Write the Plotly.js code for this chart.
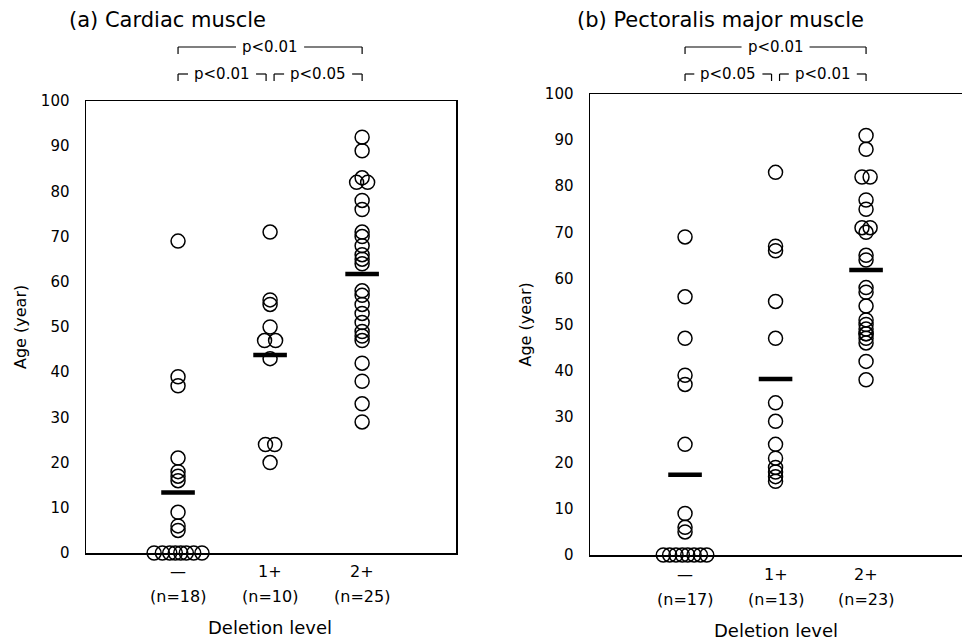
<!DOCTYPE html>
<html><head><meta charset="utf-8">
<script src="https://cdn.plot.ly/plotly-3.0.1.min.js"></script>
<style>html,body{margin:0;padding:0;background:#fff;}#chart{width:962px;height:643px;}</style>
</head><body><div id="chart"></div>
<script>
// ---------- data ----------
const categories = ['—', '1+', '2+'];
const nLabelsA = ['(n=18)', '(n=10)', '(n=25)'];
const nLabelsB = ['(n=17)', '(n=13)', '(n=23)'];
const titleA = '(a) Cardiac muscle';
const titleB = '(b) Pectoralis major muscle';
const yTitle = 'Age (year)';
const xTitle = 'Deletion level';

// (a) Cardiac muscle
const cardiacNone = [69, 39, 37, 21, 18, 17, 16, 9, 6, 5, 0, 0, 0, 0, 0, 0, 0, 0];
const cardiacNoneOff = [0, 0, 0, 0, 0, 0, 0, 0, 0, 0, -0.26, -0.17, -0.09, -0.03, 0.03, 0.09, 0.17, 0.26];
const cardiac1 = [71, 56, 55, 50, 47, 47, 43, 24, 24, 20];
const cardiac1Off = [0, 0, 0, 0, -0.06, 0.06, 0, -0.05, 0.05, 0];
const cardiac2 = [92, 89, 83, 82, 82, 78, 76, 71, 70, 68, 66, 65, 64, 58, 57, 55, 53, 51, 49, 48, 47, 42, 38, 33, 29];
const cardiac2Off = [0, 0, 0, -0.06, 0.06, 0, 0, 0, 0, 0, 0, 0, 0, 0, 0, 0, 0, 0, 0, 0, 0, 0, 0, 0, 0];
const cardiacMeans = [13.4, 43.8, 61.7];
const cardiacP = ['p<0.01', 'p<0.01', 'p<0.05']; // 1-3, 1-2, 2-3

// (b) Pectoralis major muscle
const pectNone = [69, 56, 47, 39, 37, 24, 9, 6, 5, 0, 0, 0, 0, 0, 0, 0, 0];
const pectNoneOff = [0, 0, 0, 0, 0, 0, 0, 0, 0, -0.24, -0.17, -0.1, -0.03, 0.03, 0.1, 0.17, 0.24];
const pect1 = [83, 67, 66, 55, 47, 33, 29, 24, 21, 19, 18, 17, 16];
const pect1Off = [0, 0, 0, 0, 0, 0, 0, 0, 0, 0, 0, 0, 0];
const pect2 = [91, 88, 82, 82, 77, 75, 71, 71, 70, 65, 64, 58, 57, 54, 51, 50, 49, 48, 48, 47, 46, 42, 38];
const pect2Off = [0, 0, -0.045, 0.045, 0, 0, -0.045, 0.045, 0, 0, 0, 0, 0, 0, 0, 0, 0, 0, 0, 0, 0, 0, 0];
const pectMeans = [17.4, 38.2, 61.8];
const pectP = ['p<0.01', 'p<0.05', 'p<0.01'];

// ---------- build ----------
const W = 962, H = 643;
const FONT = '"DejaVu Sans", "Noto Sans", sans-serif';
const py = p => 1 - p / H;

function dots(vals, offs, cat, xa, ya) {
  return {
    type: 'scatter', mode: 'markers', xaxis: xa, yaxis: ya, cliponaxis: false,
    x: vals.map((v, i) => cat + offs[i]), y: vals, hoverinfo: 'y',
    marker: { symbol: 'circle-open', size: 14, color: '#000', line: { width: 1.5, color: '#000' } }
  };
}
function means(m, xa, ya) {
  return {
    type: 'scatter', mode: 'markers', xaxis: xa, yaxis: ya, cliponaxis: false,
    x: m.map((v, i) => i + 1), y: m, hoverinfo: 'y',
    marker: { symbol: 'line-ew', size: 24, color: '#000', line: { width: 4.5, color: '#000' } }
  };
}

const traces = [
  dots(cardiacNone, cardiacNoneOff, 1, 'x', 'y'),
  dots(cardiac1, cardiac1Off, 2, 'x', 'y'),
  dots(cardiac2, cardiac2Off, 3, 'x', 'y'),
  means(cardiacMeans, 'x', 'y'),
  dots(pectNone, pectNoneOff, 1, 'x2', 'y2'),
  dots(pect1, pect1Off, 2, 'x2', 'y2'),
  dots(pect2, pect2Off, 3, 'x2', 'y2'),
  means(pectMeans, 'x2', 'y2')
];

const axX = {
  showgrid: false, zeroline: false, showticklabels: false, ticks: '',
  showline: true, linecolor: '#000', linewidth: 1.5, mirror: true, fixedrange: true
};
const axY = {
  range: [0, 100], tick0: 0, dtick: 10, showgrid: false, zeroline: false,
  showline: true, linecolor: '#000', linewidth: 1.5,
  ticks: 'outside', ticklen: 12, tickcolor: 'rgba(0,0,0,0)',
  tickfont: { size: 15, family: FONT, color: '#000' }, fixedrange: true
};

// panel geometry (pixels)
const panels = [
  { xa: 'x', ya: 'y', left: 86, right: 456, top: 101, bottom: 553, range: [0, 4.02], ppu: 92,
    title: titleA, titleX: 167, yTitleX: 20, nl: nLabelsA, p: cardiacP, rowOff: 0 },
  { xa: 'x2', ya: 'y2', left: 590, right: 962, top: 94, bottom: 555, range: [-0.05, 4.06], ppu: 90.5,
    title: titleB, titleX: 720, yTitleX: 525, nl: nLabelsB, p: pectP, rowOff: 3 }
];

const annotations = [];
const shapes = [];
const tfont = s => ({ family: FONT, size: s, color: '#000' });

panels.forEach(P => {
  const xr = P.xa;
  annotations.push({ xref: 'paper', yref: 'paper', x: P.titleX / W, y: py(20), text: P.title,
    showarrow: false, xanchor: 'center', yanchor: 'middle', font: tfont(21) });
  annotations.push({ xref: 'paper', yref: 'paper', x: P.yTitleX / W, y: py((P.top + P.bottom) / 2), text: yTitle,
    textangle: -90, showarrow: false, xanchor: 'center', yanchor: 'middle', font: tfont(16) });
  categories.forEach((c, i) => {
    annotations.push({ xref: xr, yref: 'paper', x: i + 1, y: py(571 + P.rowOff), text: c,
      showarrow: false, xanchor: 'center', yanchor: 'middle', font: tfont(16) });
    annotations.push({ xref: xr, yref: 'paper', x: i + 1, y: py(596 + P.rowOff), text: P.nl[i],
      showarrow: false, xanchor: 'center', yanchor: 'middle', font: tfont(16) });
  });
  annotations.push({ xref: xr, yref: 'paper', x: 2, y: py(627 + P.rowOff), text: xTitle,
    showarrow: false, xanchor: 'center', yanchor: 'middle', font: tfont(18) });

  // significance brackets
  const d = 4 / P.ppu;
  const brackets = [
    { a: 1, b: 3, yp: 47, text: P.p[0] },
    { a: 1, b: 2 - d, yp: 74, text: P.p[1] },
    { a: 2 + d, b: 3, yp: 74, text: P.p[2] }
  ];
  brackets.forEach(B => {
    const mid = (B.a + B.b) / 2;
    const g = 34 / P.ppu;
    const line = (x0, y0, x1, y1) => shapes.push({ type: 'line', xref: xr, yref: 'paper', x0, x1, y0: py(y0), y1: py(y1),
      line: { color: '#000', width: 1.2 } });
    line(B.a, B.yp, mid - g, B.yp);
    line(mid + g, B.yp, B.b, B.yp);
    line(B.a, B.yp, B.a, B.yp + 7);
    line(B.b, B.yp, B.b, B.yp + 7);
    annotations.push({ xref: xr, yref: 'paper', x: mid, y: py(B.yp), text: B.text,
      showarrow: false, xanchor: 'center', yanchor: 'middle', font: tfont(15) });
  });
});

const layout = {
  width: W, height: H, margin: { l: 0, r: 0, t: 0, b: 0 },
  paper_bgcolor: '#fff', plot_bgcolor: '#fff', showlegend: false,
  font: { family: FONT, size: 15, color: '#000' },
  xaxis: Object.assign({}, axX, { domain: [panels[0].left / W, panels[0].right / W], range: panels[0].range, anchor: 'y' }),
  yaxis: Object.assign({}, axY, { domain: [py(panels[0].bottom), py(panels[0].top)], anchor: 'x', mirror: true }),
  xaxis2: Object.assign({}, axX, { domain: [panels[1].left / W, 1], range: panels[1].range, anchor: 'y2' }),
  yaxis2: Object.assign({}, axY, { domain: [py(panels[1].bottom), py(panels[1].top)], anchor: 'x2', mirror: false }),
  annotations, shapes
};

Plotly.newPlot('chart', traces, layout, { displayModeBar: false, staticPlot: true });
</script>
</body></html>
